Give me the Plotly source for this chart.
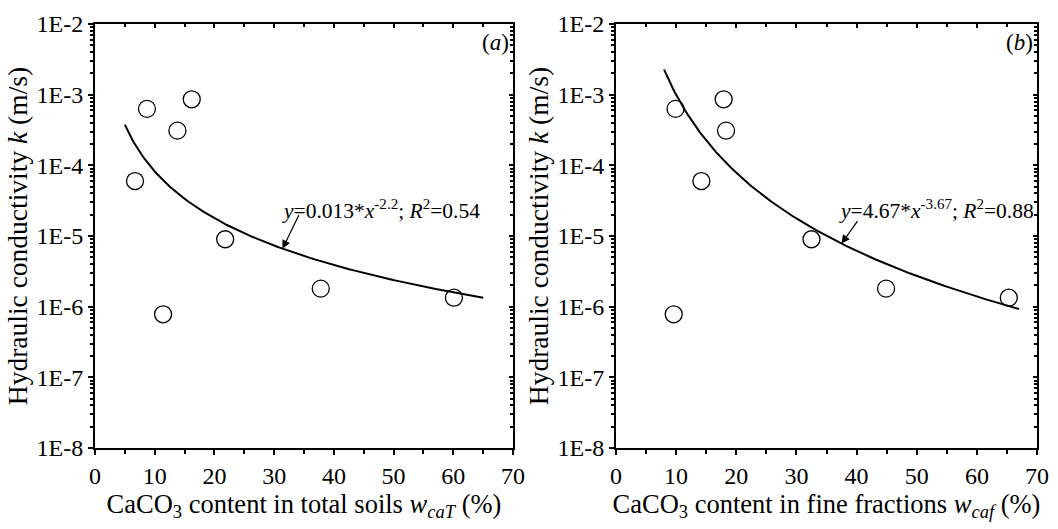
import numpy as np
import plotly.graph_objects as go

# Measured data: CaCO3 content (%) vs hydraulic conductivity k (m/s)
k_values = [6.0e-5, 6.3e-4, 3.1e-4, 8.6e-4, 7.8e-7, 9.0e-6, 1.8e-6, 1.34e-6]
w_total = [6.7, 8.7, 13.8, 16.2, 11.4, 21.8, 37.8, 60.1]
w_fine = [14.2, 9.9, 18.3, 17.9, 9.6, 32.5, 44.9, 65.3]

# Power-law fits y = a * x^b
fit_total = dict(a=0.013, b=-2.2, x0=5, x1=65, r2=0.54)
fit_fine = dict(a=4.67, b=-3.67, x0=8, x1=67, r2=0.88)

ytick_vals = [1e-8, 1e-7, 1e-6, 1e-5, 1e-4, 1e-3, 1e-2]
ytick_text = ["1E-8", "1E-7", "1E-6", "1E-5", "1E-4", "1E-3", "1E-2"]
xtick_vals = [0, 10, 20, 30, 40, 50, 60, 70]

FONT = "Liberation Serif, Times New Roman, DejaVu Serif, serif"
BLACK = "#000000"

fig = go.Figure()

panels = [
    dict(x=w_total, fit=fit_total, xa="x", ya="y", xa_top="x3", ya_right="y3",
         dom=[0.0898, 0.4849], label="a", arrow_x=31.4, arrow_ay=-35,
         text_x=47.9,
         xtitle="CaCO<sub>3</sub> content in total soils <i>w</i><sub><i>caT</i></sub> (%)"),
    dict(x=w_fine, fit=fit_fine, xa="x2", ya="y2", xa_top="x4", ya_right="y4",
         dom=[0.5822, 0.9802], label="b", arrow_x=37.5, arrow_ay=-24,
         text_x=53.3,
         xtitle="CaCO<sub>3</sub> content in fine fractions <i>w</i><sub><i>caf</i></sub> (%)"),
]

axis_common = dict(
    showline=True, linecolor=BLACK, linewidth=2, showgrid=False, zeroline=False,
    tickfont=dict(family=FONT, size=24, color=BLACK), ticks="outside",
    tickcolor=BLACK, tickwidth=2, automargin=False,
)

layout_axes = {}
for i, p in enumerate(panels):
    f = p["fit"]
    xs = np.linspace(f["x0"], f["x1"], 200)
    fig.add_trace(go.Scatter(x=xs, y=f["a"] * xs ** f["b"], mode="lines",
                             line=dict(color=BLACK, width=2), xaxis=p["xa"], yaxis=p["ya"],
                             showlegend=False, hoverinfo="skip"))
    fig.add_trace(go.Scatter(x=p["x"], y=k_values, mode="markers",
                             marker=dict(symbol="circle-open", size=17, color=BLACK,
                                         line=dict(width=1.3, color=BLACK)),
                             xaxis=p["xa"], yaxis=p["ya"], showlegend=False))
    # invisible trace on the mirror axes so they are drawn
    fig.add_trace(go.Scatter(x=[None], y=[None], xaxis=p["xa_top"], yaxis=p["ya_right"],
                             showlegend=False, hoverinfo="skip"))

    n = "" if i == 0 else "2"
    n_top = "3" if i == 0 else "4"
    layout_axes["xaxis" + n] = dict(
        axis_common, domain=p["dom"], range=[0, 70], tickvals=xtick_vals, ticklen=5,
        anchor=p["ya"], minor=dict(dtick=5, ticks="outside", ticklen=4, tickwidth=2,
                                   tickcolor=BLACK, showgrid=False),
        title=dict(text=p["xtitle"], font=dict(family=FONT, size=26.5, color=BLACK), standoff=1),
    )
    layout_axes["yaxis" + n] = dict(
        axis_common, domain=[0.1531, 0.9546], type="log", range=[-8, -2],
        tickvals=ytick_vals, ticktext=ytick_text, ticklen=5, anchor=p["xa"],
        minor=dict(dtick="D1", ticks="outside", ticklen=3, tickwidth=1.5,
                   tickcolor=BLACK, showgrid=False),
        title=dict(text="Hydraulic conductivity <i>k</i> (m/s)",
                   font=dict(family=FONT, size=27.5, color=BLACK), standoff=1),
    )
    # mirror axes on top and right with inward ticks
    layout_axes["xaxis" + n_top] = dict(
        domain=p["dom"], range=[0, 70], overlaying=p["xa"], side="top", anchor=p["ya"],
        showline=True, linecolor=BLACK, linewidth=2, showgrid=False, zeroline=False,
        ticks="inside", tickvals=xtick_vals, ticklen=4, tickwidth=2, tickcolor=BLACK,
        showticklabels=False, automargin=False,
        minor=dict(dtick=5, ticks="inside", ticklen=3, tickwidth=2, tickcolor=BLACK,
                   showgrid=False),
    )
    layout_axes["yaxis" + n_top] = dict(
        domain=[0.1531, 0.9546], type="log", range=[-8, -2], overlaying=p["ya"],
        side="right", anchor=p["xa"], showline=True, linecolor=BLACK, linewidth=2,
        showgrid=False, zeroline=False, ticks="inside", tickvals=ytick_vals, ticklen=4,
        tickwidth=2, tickcolor=BLACK, showticklabels=False, automargin=False,
        minor=dict(dtick="D1", ticks="inside", ticklen=3, tickwidth=1.5,
                   tickcolor=BLACK, showgrid=False),
    )

fig.update_layout(**layout_axes)

annotations = []
for p in panels:
    f = p["fit"]
    ax_val = p["arrow_x"]
    annotations.append(dict(
        x=ax_val, y=np.log10(f["a"] * ax_val ** f["b"]), xref=p["xa"], yref=p["ya"],
        text="", showarrow=True, arrowhead=2, arrowsize=1.4, arrowwidth=1.2,
        arrowcolor=BLACK, ax=17, ay=p["arrow_ay"],
    ))
    annotations.append(dict(
        x=p["text_x"], y=-4.618, xref=p["xa"], yref=p["ya"], showarrow=False,
        xanchor="center", yanchor="middle",
        text="<i>y</i>=%g*<i>x</i><sup>%g</sup>; <i>R</i><sup>2</sup>=%.2f" % (f["a"], f["b"], f["r2"]),
        font=dict(family=FONT, size=21.5, color=BLACK),
    ))
    annotations.append(dict(
        x=67.0, y=-2.255, xref=p["xa"], yref=p["ya"], showarrow=False,
        xanchor="center", yanchor="middle", text="(<i>%s</i>)" % p["label"],
        font=dict(family=FONT, size=23, color=BLACK),
    ))

fig.update_layout(
    width=1058, height=529, margin=dict(l=0, r=0, t=0, b=0),
    paper_bgcolor="white", plot_bgcolor="white",
    font=dict(family=FONT, color=BLACK),
    annotations=annotations, showlegend=False,
)

fig.write_html("out.html")
